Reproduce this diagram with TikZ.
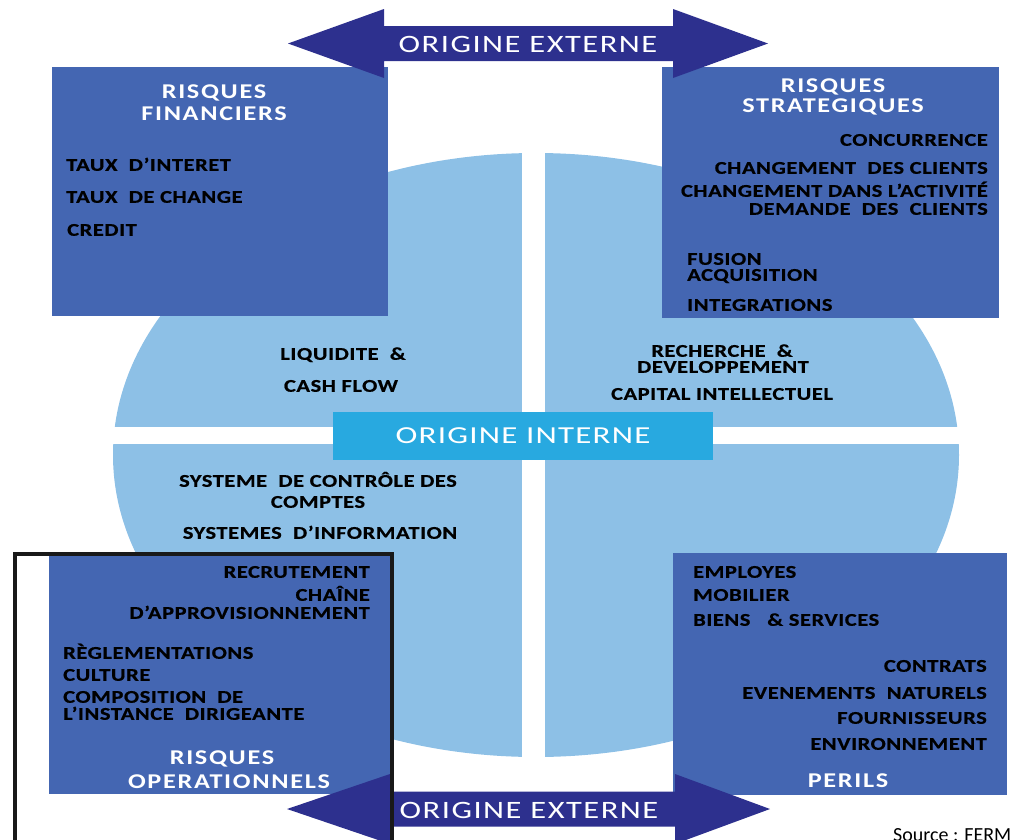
\documentclass[tikz,border=0pt]{standalone}
\usepackage{fontspec}
\setmainfont{Carlito}
\newfontfamily\bodyfont[LetterSpace=3, FakeStretch=1.25, BoldFeatures={FakeBold=0.6}]{Carlito}
\newfontfamily\titlefont[LetterSpace=8, FakeStretch=1.25]{Carlito}
\newfontfamily\bandfont[LetterSpace=6, FakeStretch=1.3]{Carlito}
\newfontfamily\corefont[LetterSpace=5, FakeStretch=1.35]{Carlito}
\definecolor{boxblue}{RGB}{68,102,178}
\definecolor{arrowblue}{RGB}{45,48,142}
\definecolor{ellblue}{RGB}{141,192,230}
\definecolor{coreblue}{RGB}{40,169,224}

\begin{document}
\begin{tikzpicture}[x=1pt,y=-1pt,
  item/.style={inner sep=0pt, text=black, text height=11.6pt, text depth=0pt,
    font=\bodyfont\bfseries\fontsize{18}{18}\selectfont},
  head/.style={inner sep=0pt, text=white, text height=13.5pt, text depth=0pt,
    font=\titlefont\bfseries\fontsize{21}{21}\selectfont},
  band/.style={inner sep=0pt, text=white, text height=16pt, text depth=0pt,
    font=\bandfont\fontsize{25}{25}\selectfont},
  panel/.style={fill=boxblue, draw=none, inner sep=0pt, anchor=north west},
  arrowband/.style={fill=arrowblue, draw=none},
]
\useasboundingbox (0,0) rectangle (1010,839);
\clip (0,0) rectangle (1010,839);

% central ellipse split into four quadrants
\fill[ellblue] (536,455) ellipse [x radius=423pt, y radius=302pt];
\fill[white] (522,140) rectangle (545,770);
\fill[white] (100,427) rectangle (1010,444);
\node[fill=coreblue, minimum width=380pt, minimum height=48pt, inner sep=0pt,
      text=white, text height=15.7pt, text depth=0pt,
      font=\corefont\fontsize{24.4}{24.4}\selectfont] (core) at (523,436) {ORIGINE INTERNE};

% four risk panels
\node[panel, minimum width=336pt, minimum height=249pt] (fin) at (52,67) {};
\node[panel, minimum width=337pt, minimum height=251pt] (strat) at (662,67) {};
\node[panel, minimum width=341pt, minimum height=241pt] (oper) at (49,553) {};
\node[panel, minimum width=334pt, minimum height=242pt] (peril) at (673,553) {};

% external-origin double arrows
\fill[arrowband] (288,43.5) -- (384,9) -- (384,26) -- (673,26) -- (673,9) -- (768,43.5)
  -- (673,78) -- (673,61) -- (384,61) -- (384,78) -- cycle;
\fill[arrowband] (287,809) -- (390,774) -- (390,791.5) -- (675,791.5) -- (675,774) -- (770,809)
  -- (675,844) -- (675,826.5) -- (390,826.5) -- (390,844) -- cycle;
\node[band] (extTop) at (528,44) {ORIGINE EXTERNE};
\node[band] (extBot) at (529,810) {ORIGINE EXTERNE};

% frame round the operational panel
\draw[line width=4pt, black!90] (15,554) rectangle (392,870);

% financial risks
\node[head] (finA) at (214,92) {RISQUES};
\node[head] (finB) at (214,114) {FINANCIERS};
\node[item, anchor=west] (taux1) at (66,165) {TAUX\ \ D’INTERET};
\node[item, anchor=west] (taux2) at (66,197) {TAUX\ \ DE CHANGE};
\node[item, anchor=west] (credit) at (67,230) {CREDIT};

% strategic risks
\node[head] (stratA) at (833,86) {RISQUES};
\node[head] (stratB) at (833,106) {STRATEGIQUES};
\node[item, anchor=east] (conc) at (988,140) {CONCURRENCE};
\node[item, anchor=east] (chg1) at (988,168) {CHANGEMENT\ \ DES CLIENTS};
\node[item, anchor=east] (chg2) at (988,191) {CHANGEMENT DANS L’ACTIVITÉ};
\node[item, anchor=east] (dem) at (988,209) {DEMANDE\ \ DES\ \ CLIENTS};
\node[item, anchor=west] (fus) at (687,259) {FUSION};
\node[item, anchor=west] (acq) at (687,275) {ACQUISITION};
\node[item, anchor=west] (integ) at (687,305) {INTEGRATIONS};

% internal quadrants
\node[item] (liq) at (343,354) {LIQUIDITE\ \ \&};
\node[item] (cash) at (341,386) {CASH FLOW};
\node[item] (rech) at (722,351) {RECHERCHE\ \ \&};
\node[item] (dev) at (723,367) {DEVELOPPEMENT};
\node[item] (capi) at (722,394) {CAPITAL INTELLECTUEL};
\node[item] (sys1) at (318,481) {SYSTEME\ \ DE CONTRÔLE DES};
\node[item] (sys2) at (318,502) {COMPTES};
\node[item] (sys3) at (320,533) {SYSTEMES\ \ D’INFORMATION};

% operational risks
\node[item, anchor=east] (recr) at (370,572) {RECRUTEMENT};
\node[item, anchor=east] (chain1) at (370,595) {CHAÎNE};
\node[item, anchor=east] (chain2) at (370,613) {D’APPROVISIONNEMENT};
\node[item, anchor=west] (regl) at (63,653) {RÈGLEMENTATIONS};
\node[item, anchor=west] (cult) at (63,675) {CULTURE};
\node[item, anchor=west] (comp1) at (63,697) {COMPOSITION\ \ DE};
\node[item, anchor=west] (comp2) at (63,714) {L’INSTANCE\ \ DIRIGEANTE};
\node[head] (operA) at (222,758) {RISQUES};
\node[head] (operB) at (229,782) {OPERATIONNELS};

% hazards
\node[item, anchor=west] (empl) at (693,572) {EMPLOYES};
\node[item, anchor=west] (mob) at (693,595) {MOBILIER};
\node[item, anchor=west] (biens) at (693,620) {BIENS\ \ \ \&\ SERVICES};
\node[item, anchor=east] (contr) at (987,666) {CONTRATS};
\node[item, anchor=east] (evt) at (987,693) {EVENEMENTS\ \ NATURELS};
\node[item, anchor=east] (four) at (987,718) {FOURNISSEURS};
\node[item, anchor=east] (env) at (987,744) {ENVIRONNEMENT};
\node[head] (perA) at (848,781) {PERILS};

% source line
\node[inner sep=0pt, anchor=base west, font=\fontsize{20}{20}\selectfont] (src) at (893,841) {Source : FERM};
\end{tikzpicture}
\end{document}
